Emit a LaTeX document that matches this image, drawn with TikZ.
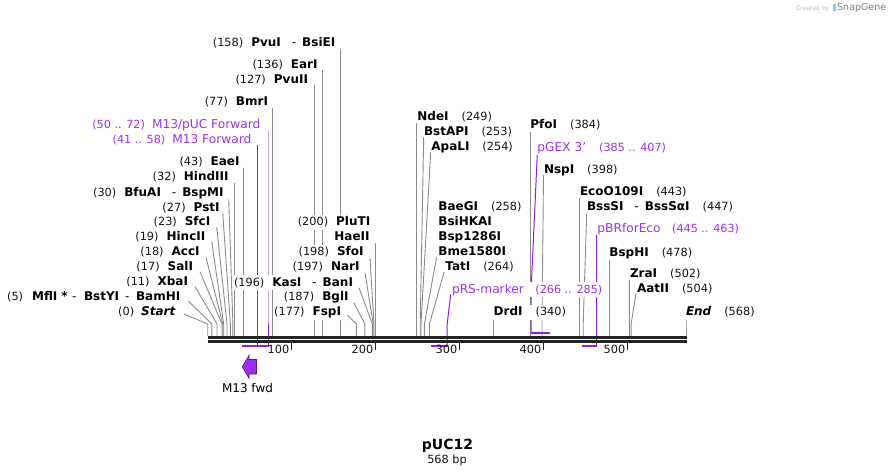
\documentclass[tikz,border=0pt]{standalone}
\usepackage{fontspec}
\setmainfont{DejaVu Sans}[BoldFont={DejaVu Sans Bold},ItalicFont={DejaVu Sans Oblique},BoldItalicFont={DejaVu Sans Bold Oblique}]
\usetikzlibrary{calc}
\pgfdeclarelayer{bg}
\pgfdeclarelayer{lines}
\pgfsetlayers{bg,lines,main}
\definecolor{sitegray}{RGB}{140,140,140}
\definecolor{prim}{RGB}{160,50,235}
\definecolor{primline}{RGB}{145,30,230}
\definecolor{primlight}{RGB}{205,160,245}
\definecolor{barc}{RGB}{35,35,35}
\definecolor{featfill}{RGB}{155,45,235}
\definecolor{featdraw}{RGB}{95,20,150}
\definecolor{numc}{RGB}{20,20,20}
\newcommand{\enzn}[1]{{\fontsize{12}{14}\selectfont\bfseries #1}}
\newcommand{\posn}[1]{{\fontsize{11.3}{13}\selectfont\color{numc}#1}}
\newcommand{\primn}[1]{{\fontsize{12.2}{14}\selectfont\color{prim}#1}}
\newcommand{\primp}[1]{{\fontsize{11.2}{13}\selectfont\color{prim}#1}}
\newcommand{\dashsep}{\hspace{11pt}{\fontsize{12}{14}\selectfont -}\hspace{6pt}}
\newcommand{\gapL}{\hspace{8pt}}
\newcommand{\gapR}{\hspace{13pt}}
\newcommand{\gapP}{\hspace{11.5pt}}
\newcommand{\sline}[3]{\draw[site] ($(#1)+(#2)$) -- (#3,324) -- (#3,336);}
\begin{document}
\begin{tikzpicture}[x=1pt,y=-1pt,
  lab/.style={fill=white, inner xsep=0.5pt, inner ysep=0.5pt, text height=10.5pt, text depth=3.5pt},
  labl/.style={lab, anchor=base east},
  labr/.style={lab, anchor=base west},
  site/.style={draw=sitegray, line width=0.9pt},
  pline/.style={draw=primline, line width=1pt},
  primerbar/.style={draw=primline, line width=2pt},
  barline/.style={draw=barc, line width=2.8pt}]
\useasboundingbox (0,0) rectangle (895,475);
\begin{pgfonlayer}{bg}
\fill[white] (0,0) rectangle (895,475);
\end{pgfonlayer}

% ---------- left labels ----------
\node[labl] (l158) at (336,46.3) {\posn{(158)}\gapL\enzn{PvuI}\dashsep\enzn{BsiEI}};
\node[labl] (l136) at (318.3,68) {\posn{(136)}\gapL\enzn{EarI}};
\node[labl] (l127) at (308.7,83) {\posn{(127)}\gapL\enzn{PvuII}};
\node[labl] (l77) at (268.7,105.7) {\posn{(77)}\gapL\enzn{BmrI}};
\node[labl] (p50) at (261,128) {\primp{(50 .. 72)}\hspace{7pt}\primn{M13/pUC Forward}};
\node[labl] (p41) at (252,143) {\primp{(41 .. 58)}\hspace{7pt}\primn{M13 Forward}};
\node[labl] (l43) at (240.3,165.7) {\posn{(43)}\gapL\enzn{EaeI}};
\node[labl] (l32) at (229.3,180.7) {\posn{(32)}\gapL\enzn{HindIII}};
\node[labl] (l30) at (224.3,196.7) {\posn{(30)}\gapL\enzn{BfuAI}\dashsep\enzn{BspMI}};
\node[labl] (l27) at (220.3,211) {\posn{(27)}\gapL\enzn{PstI}};
\node[labl] (l23) at (211,225.7) {\posn{(23)}\gapL\enzn{SfcI}};
\node[labl] (l19) at (206,240.7) {\posn{(19)}\gapL\enzn{HincII}};
\node[labl] (l18) at (200.3,255.7) {\posn{(18)}\gapL\enzn{AccI}};
\node[labl] (l17) at (193.7,270.7) {\posn{(17)}\gapL\enzn{SalI}};
\node[labl] (l11) at (188.7,285.7) {\posn{(11)}\gapL\enzn{XbaI}};
\node[labl] (l5) at (181,300.7) {\posn{(5)}\hspace{9pt}\enzn{MflI\hspace{4pt}*}\hspace{4.5pt}{\fontsize{12}{14}\selectfont -}\hspace{7.5pt}\enzn{BstYI}\hspace{6pt}{\fontsize{12}{14}\selectfont -}\hspace{6.5pt}\enzn{BamHI}};
\node[labl] (l0) at (176,315.7) {\posn{(0)}\hspace{7pt}\enzn{\itshape Start}};

% ---------- middle labels ----------
\node[labl] (l200) at (371,225.7) {\posn{(200)}\gapL\enzn{PluTI}};
\node[labl] (haeII) at (370.3,240.7) {\enzn{HaeII}};
\node[labl] (l198) at (364.3,255.7) {\posn{(198)}\gapL\enzn{SfoI}};
\node[labl] (l197) at (360.3,270.7) {\posn{(197)}\gapL\enzn{NarI}};
\node[labl] (l196) at (353.7,286.3) {\posn{(196)}\gapL\enzn{KasI}\dashsep\enzn{BanI}};
\node[labl] (l187) at (349.3,300.7) {\posn{(187)}\gapL\enzn{BglI}};
\node[labl] (l177) at (341.7,315.7) {\posn{(177)}\gapL\enzn{FspI}};

% ---------- right labels ----------
\node[labr] (r249) at (416.7,120) {\enzn{NdeI}\gapR\posn{(249)}};
\node[labr] (r253) at (423.3,135.7) {\enzn{BstAPI}\gapR\posn{(253)}};
\node[labr] (r254) at (430.7,150.7) {\enzn{ApaLI}\gapR\posn{(254)}};
\node[labr] (r258) at (437.7,210.7) {\enzn{BaeGI}\gapR\posn{(258)}};
\node[labr] (bsihkai) at (437.7,225.7) {\enzn{BsiHKAI}};
\node[labr] (bsp1286) at (437.7,240.7) {\enzn{Bsp1286I}};
\node[labr] (bme1580) at (437.7,255.7) {\enzn{Bme1580I}};
\node[labr] (r264) at (444.7,270.7) {\enzn{TatI}\gapR\posn{(264)}};
\node[labr] (prs) at (451.3,293) {\primn{pRS-marker}\gapP\primp{(266 .. 285)}};
\node[labr] (r340) at (493,315.7) {\enzn{DrdI}\gapR\posn{(340)}};
\node[labr] (r384) at (529.7,128) {\enzn{PfoI}\gapR\posn{(384)}};
\node[labr] (pgex) at (536.7,151.3) {\primn{pGEX 3'}\hspace{13pt}\primp{(385 .. 407)}};
\node[labr] (r398) at (543.3,173) {\enzn{NspI}\gapR\posn{(398)}};
\node[labr] (r443) at (579.3,195.7) {\enzn{EcoO109I}\gapR\posn{(443)}};
\node[labr] (r447) at (586.3,210.7) {\enzn{BssSI}\dashsep\enzn{BssSαI}\gapR\posn{(447)}};
\node[labr] (pbr) at (596.7,232.3) {\primn{pBRforEco}\gapP\primp{(445 .. 463)}};
\node[labr] (r478) at (608.7,256.3) {\enzn{BspHI}\gapR\posn{(478)}};
\node[labr] (r502) at (629.3,277.3) {\enzn{ZraI}\gapR\posn{(502)}};
\node[labr] (r504) at (636.3,292.3) {\enzn{AatII}\gapR\posn{(504)}};
\node[labr] (rend) at (685.3,315.7) {\enzn{\itshape End}\gapR\posn{(568)}};

% ---------- connector lines ----------
\begin{pgfonlayer}{lines}
\sline{l158.base east}{4.4,2.7}{340.4}
\sline{l136.base east}{3.9,2}{322.2}
\sline{l127.base east}{5.7,2}{314.4}
\sline{l77.base east}{3.7,2.6}{272.4}
\sline{l43.base east}{3.5,1.8}{243.8}
\sline{l32.base east}{5.3,2}{234.6}
\sline{l30.base east}{4.4,2.6}{232.9}
\sline{l27.base east}{2.4,1.7}{230.4}
\sline{l23.base east}{5.7,1.6}{227}
\sline{l19.base east}{5.7,1}{223.7}
\sline{l18.base east}{5.7,1.6}{222.8}
\sline{l17.base east}{6.3,1}{222}
\sline{l11.base east}{6.3,1}{217}
\sline{l5.base east}{7.3,0.3}{211.9}
\sline{l0.base east}{8,-1.7}{207.7}
\sline{haeII.base east}{5.4,2.6}{375.7}
\sline{l198.base east}{5.7,2.6}{374}
\sline{l197.base east}{4.7,2}{373.2}
\sline{l196.base east}{5.3,1.4}{372.3}
\sline{l187.base east}{4.7,2}{364.8}
\sline{l177.base east}{5.6,-0.7}{356.4}
\sline{r249.base west}{0.2,3.3}{416.9}
\sline{r253.base west}{0.4,1.6}{420.2}
\sline{r254.base west}{0,1.6}{421}
\sline{bme1580.base west}{-1,1}{424.4}
\sline{r264.base west}{-0.7,1.6}{429.5}
\sline{r340.base west}{0.3,2.3}{493.3}
\sline{r384.base west}{0.6,2.7}{530.3}
\sline{r398.base west}{0.2,2}{542}
\sline{r443.base west}{0.5,2.6}{579.8}
\sline{r447.base west}{0.4,2.6}{583.2}
\sline{r478.base west}{0.5,2}{609.2}
\sline{r502.base west}{0.1,2.7}{629.4}
\sline{r504.base west}{-0.3,1}{631.1}
\sline{rend.base west}{0.7,1}{686}
% primers
\draw[draw=primlight, line width=1pt] ($(p50.base east)+(7.2,1.5)$) -- (268.2,324);
\draw[pline] (268.2,324) -- (268.2,346);
\draw[pline] ($(p41.base east)+(5,2)$) -- (257,346);
\draw[pline] ($(prs.base west)+(-0.6,1.3)$) -- (447.2,324) -- (447.2,346);
\draw[pline] ($(pgex.base west)+(0.6,2.7)$) -- (531.1,290) -- (531.1,332.7);
\draw[pline] ($(pbr.base west)+(-0.1,2.7)$) -- (596.6,346);
\end{pgfonlayer}

\draw[primerbar] (242.1,346) -- (268.7,346);
\draw[primerbar] (431.1,346) -- (447.7,346);
\draw[primerbar] (530.6,332.7) -- (549.6,332.7);
\draw[primerbar] (581.5,346) -- (597.1,346);

% ---------- sequence bar ----------
\coordinate (barL) at (207.5,337.2);
\coordinate (barR) at (686.5,337.2);
\draw[barline] (barL) -- (barR);
\draw[barline, line width=2.6pt] ($(barL)+(0,4.2)$) -- ($(barR)+(0,4.2)$);
\foreach \t/\x in {100/291.7,200/375.7,300/459.7,400/543.7,500/627.7}{
  \draw[draw=barc, line width=1.4pt] (\x,342.5) -- (\x,350);
  \node[anchor=base east, inner sep=0pt] (tick\t) at (\x-2.2,353) {\posn{\t}};
}

% ---------- feature ----------
\filldraw[fill=featfill, draw=featdraw, line width=0.6pt] (242.3,366.7) -- (249,355.3) -- (249,359.5) -- (256.5,359.5) -- (256.5,374) -- (249,374) -- (249,378.3) -- cycle;
\node[anchor=base, inner sep=0pt] (fwdlbl) at (247.5,392.5) {\fontsize{12}{14}\selectfont M13 fwd};

% ---------- title ----------
\node[anchor=base, inner sep=0pt] (title) at (447.5,449) {\fontsize{14}{16}\selectfont\bfseries pUC12};
\node[anchor=base, inner sep=0pt] (bp) at (447,463) {\posn{568 bp}};

% ---------- logo ----------
\node[anchor=base east, inner sep=0pt, text=black!25] (created) at (829.5,10) {\fontsize{6}{7}\selectfont Created by};
\fill[color={rgb,255:red,140;green,200;blue,240}] (832.5,3.5) rectangle (835.5,11);
\node[anchor=base west, inner sep=0pt, text=black!50] (snapgene) at (837,10) {\fontsize{9.5}{11}\selectfont SnapGene};
\end{tikzpicture}
\end{document}
